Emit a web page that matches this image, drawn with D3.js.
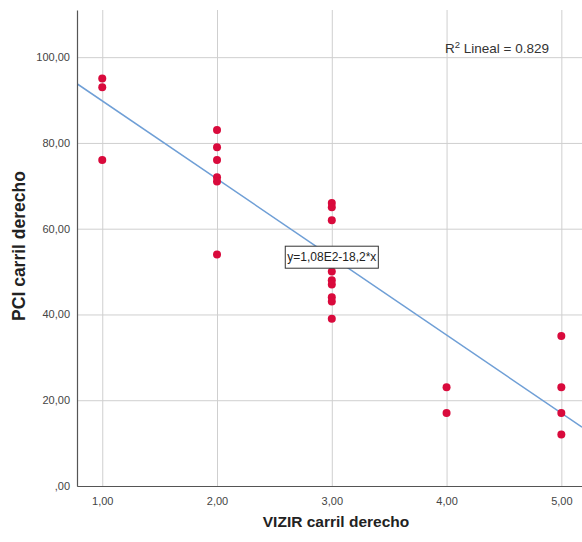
<!DOCTYPE html>
<html>
<head>
<meta charset="utf-8">
<script src="https://cdn.jsdelivr.net/npm/d3@7"></script>
<style>
  body { margin: 0; background: #fff; overflow: hidden; }
  svg { display: block; font-family: "Liberation Sans", Arial, sans-serif; }
  .grid line { stroke: #cfcfcf; stroke-width: 1; }
  .grid .domain { display: none; }
  .axis .domain { stroke: #555; stroke-width: 1.2; }
  .axis line { display: none; }
  .axis text { fill: #444; font-size: 11px; }
</style>
</head>
<body>
<div id="chart"></div>
<script>
// Points: VIZIR (x) vs PCI (y)
const vizir = [1, 1, 1, 2, 2, 2, 2, 2, 2, 3, 3, 3, 3, 3, 3, 3, 3, 3, 4, 4, 5, 5, 5, 5];
const pci = [95, 93, 76, 83, 79, 76, 72, 71, 54, 66, 65, 62, 50, 48, 47, 44, 43, 39, 23, 17, 35, 23, 17, 12];

// Fit line y = 1,08E2 - 18,2*x
const fitIntercept = 108;
const fitSlope = -18.2;
const r2Label = "0.829";

const xTicks = [1, 2, 3, 4, 5];
const yTicks = [0, 20, 40, 60, 80, 100];

const width = 582;
const height = 542;
const pad = { left: 77, right: 0, top: 10, bottom: 56 };
const innerWidth = width - pad.left - pad.right;
const innerHeight = height - pad.top - pad.bottom;

const fmt = (d) => d3.format(".2f")(d).replace(".", ",").replace(/^0,/, ",");

const svg = d3.select("#chart").append("svg")
  .attr("width", width)
  .attr("height", height);

const x = d3.scaleLinear().domain([0.78, 5.18]).range([0, innerWidth]);
const y = d3.scaleLinear().domain([0, 111]).range([innerHeight, 0]);

const g = svg.append("g").attr("transform", `translate(${pad.left},${pad.top})`);

// Grid (lines only)
g.append("g").attr("class", "grid")
  .call(d3.axisLeft(y).tickValues(yTicks).tickSize(-innerWidth).tickFormat(""))
  .selectAll("text").remove();
g.append("g").attr("class", "grid")
  .call(d3.axisTop(x).tickValues(xTicks).tickSize(-innerHeight).tickFormat(""))
  .selectAll("text").remove();

// Clip for the fit line
svg.append("clipPath").attr("id", "clip")
  .append("rect").attr("width", innerWidth).attr("height", innerHeight);

// Fit line
const [x0, x1] = x.domain();
g.append("line")
  .attr("clip-path", "url(#clip)")
  .attr("x1", x(x0)).attr("y1", y(fitIntercept + fitSlope * x0))
  .attr("x2", x(x1)).attr("y2", y(fitIntercept + fitSlope * x1))
  .attr("stroke", "#6f9fd6")
  .attr("stroke-width", 1.5);

// Points
g.append("g")
  .selectAll("circle")
  .data(d3.zip(vizir, pci))
  .join("circle")
  .attr("cx", (d) => x(d[0]))
  .attr("cy", (d) => y(d[1]))
  .attr("r", 4)
  .attr("fill", "#d90a3c");

// Axes
g.append("g").attr("class", "axis")
  .attr("transform", `translate(0,${innerHeight})`)
  .call(d3.axisBottom(x).tickValues(xTicks).tickSize(0).tickPadding(11).tickFormat(fmt));
g.append("g").attr("class", "axis")
  .call(d3.axisLeft(y).tickValues(yTicks).tickSize(0).tickPadding(7).tickFormat(fmt));

// Equation label on the fit line
const eqX = 3;
const eqY = 53.4;
const eq = g.append("g").attr("transform", `translate(${x(eqX)},${y(eqY)})`);
const eqText = eq.append("text")
  .attr("text-anchor", "middle")
  .attr("dy", "0.35em")
  .attr("font-size", 12)
  .attr("fill", "#222")
  .text("y=1,08E2-18,2*x");
const bb = eqText.node().getBBox();
eq.insert("rect", "text")
  .attr("x", bb.x - 2).attr("y", bb.y - 4)
  .attr("width", bb.width + 4).attr("height", bb.height + 8)
  .attr("fill", "#fff")
  .attr("stroke", "#333")
  .attr("stroke-width", 1);

// R² annotation
const r2 = svg.append("text")
  .attr("x", 445).attr("y", 53)
  .attr("font-size", 13.5)
  .attr("fill", "#333");
r2.append("tspan").text("R");
r2.append("tspan").attr("dy", -5).attr("font-size", 9.5).text("2");
r2.append("tspan").attr("dy", 5).text(` Lineal = ${r2Label}`);

// Axis titles
svg.append("text")
  .attr("x", 336)
  .attr("y", 527)
  .attr("text-anchor", "middle")
  .attr("font-size", 15.5)
  .attr("font-weight", "bold")
  .attr("fill", "#222")
  .text("VIZIR carril derecho");
svg.append("text")
  .attr("transform", "translate(25,246) rotate(-90)")
  .attr("text-anchor", "middle")
  .attr("font-size", 17.5)
  .attr("font-weight", "bold")
  .attr("fill", "#222")
  .text("PCI carril derecho");
</script>
</body>
</html>
